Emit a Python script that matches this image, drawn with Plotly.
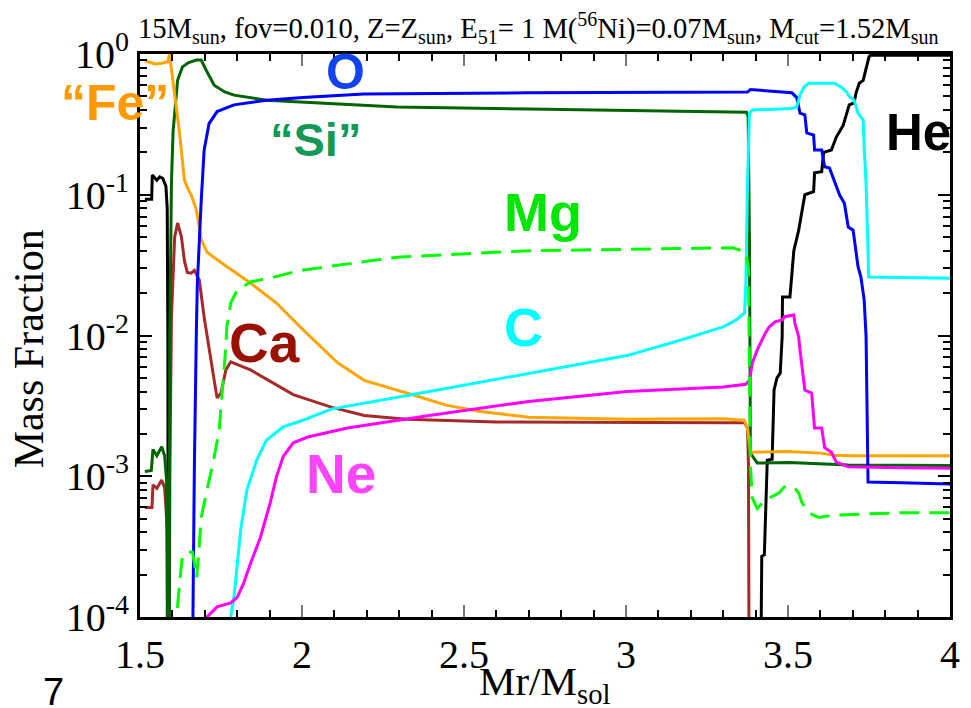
import plotly.graph_objects as go

# ---------------- data (mass fractions vs Mr/Msol) ----------------
fe_x = [1.515, 1.546, 1.567, 1.58, 1.586, 1.591, 1.600, 1.607, 1.622, 1.637, 1.648, 1.658, 1.674, 1.689,
        1.707, 1.75, 1.841, 1.921, 2.003, 2.11, 2.192, 2.323, 2.445, 2.546, 2.70, 3.003, 3.30, 3.365,
        3.375, 3.384, 3.50, 3.60, 3.643, 3.70, 4.0]
fe_y = [0.896, 0.85, 0.86, 0.877, 0.88, 1.0, 0.69, 0.53, 0.275, 0.127, 0.11, 0.10, 0.078, 0.048,
        0.039, 0.033, 0.0236, 0.017, 0.011, 0.0064, 0.0048, 0.0039, 0.0032, 0.0029, 0.00263, 0.00254, 0.00256, 0.0025,
        0.0022, 0.00148, 0.0015, 0.00146, 0.00141, 0.0014, 0.0014]

si_x = [1.515, 1.535, 1.54, 1.552, 1.567, 1.576, 1.582, 1.586, 1.589, 1.592, 1.597, 1.602, 1.607, 1.616,
        1.631, 1.65, 1.674, 1.689, 1.704, 1.729, 1.76, 1.79, 1.89, 2.003, 2.293, 2.70, 3.30, 3.372,
        3.377, 3.381, 3.384, 3.405, 3.503, 3.604, 3.686, 4.0]
si_y = [0.00108, 0.0011, 0.00155, 0.0014, 0.00162, 0.0014, 0.00093, 0.0001, 1e-6, 0.01, 0.12, 0.28, 0.40, 0.65,
        0.81, 0.87, 0.905, 0.905, 0.77, 0.60, 0.54, 0.51, 0.47, 0.456, 0.42, 0.407, 0.39, 0.385,
        0.36, 0.05, 0.00146, 0.00124, 0.00125, 0.00122, 0.0012, 0.00119]

he_x = [1.515, 1.536, 1.538, 1.552, 1.561, 1.57, 1.58, 1.584, 1.586, 1.588, 3.41, 3.419, 3.427, 3.436,
        3.451, 3.457, 3.466, 3.476, 3.482, 3.483, 3.506, 3.518, 3.533, 3.543, 3.552, 3.579, 3.582, 3.604,
        3.61, 3.634, 3.649, 3.67, 3.689, 3.704, 3.71, 3.72, 3.732, 3.75, 3.755, 4.0]
he_y = [0.093, 0.093, 0.138, 0.127, 0.134, 0.131, 0.115, 0.08, 0.01, 1e-6, 1e-6, 0.00027, 0.000276, 0.0013,
        0.00132, 0.0041, 0.005, 0.0054, 0.0098, 0.0188, 0.0188, 0.04, 0.056, 0.078, 0.10, 0.105, 0.143, 0.146,
        0.20, 0.208, 0.257, 0.31, 0.435, 0.45, 0.53, 0.62, 0.65, 0.955, 0.98, 0.98]

o_x = [1.655, 1.662, 1.668, 1.674, 1.677, 1.689, 1.698, 1.713, 1.738, 1.79, 1.89, 2.003, 2.19, 2.70,
       3.30, 3.375, 3.384, 3.482, 3.512, 3.527, 3.537, 3.552, 3.558, 3.579, 3.582, 3.604, 3.613, 3.628,
       3.649, 3.659, 3.674, 3.686, 3.701, 3.716, 3.725, 3.735, 3.741, 3.745, 3.747, 3.85, 4.0]
o_y = [1e-6, 1e-4, 0.00125, 0.011, 0.0236, 0.091, 0.208, 0.32, 0.39, 0.435, 0.47, 0.49, 0.52, 0.53,
       0.537, 0.537, 0.56, 0.537, 0.53, 0.49, 0.38, 0.37, 0.275, 0.265, 0.208, 0.208, 0.158, 0.155,
       0.114, 0.10, 0.087, 0.059, 0.056, 0.031, 0.026, 0.018, 0.0098, 0.003, 0.00091, 0.0009, 0.00088]

c_x = [1.775, 1.78, 1.79, 1.811, 1.83, 1.86, 1.89, 1.942, 2.003, 2.09, 2.393, 2.70, 3.003, 3.17,
       3.30, 3.34, 3.366, 3.37, 3.375, 3.381, 3.39, 3.512, 3.527, 3.537, 3.549, 3.564, 3.643, 3.665,
       3.68, 3.689, 3.704, 3.716, 3.732, 3.735, 3.741, 3.747, 3.749, 4.0]
c_y = [1e-5, 1e-4, 0.000138, 0.00042, 0.0008, 0.0013, 0.0018, 0.00224, 0.0025, 0.003, 0.004, 0.0054, 0.0072, 0.0093,
       0.0115, 0.0129, 0.0145, 0.0235, 0.12, 0.38, 0.40, 0.41, 0.42, 0.51, 0.58, 0.62, 0.62, 0.58,
       0.54, 0.50, 0.47, 0.38, 0.34, 0.22, 0.12, 0.04, 0.026, 0.0255]

ne_x = [1.70, 1.707, 1.738, 1.78, 1.80, 1.82, 1.841, 1.872, 1.902, 1.921, 1.942, 1.973, 2.018, 2.14,
        2.393, 2.70, 3.003, 3.30, 3.37, 3.381, 3.39, 3.405, 3.42, 3.43, 3.442, 3.46, 3.482, 3.49,
        3.518, 3.521, 3.533, 3.537, 3.552, 3.573, 3.582, 3.604, 3.613, 3.634, 3.649, 3.686, 3.85, 4.0]
ne_y = [1e-5, 1e-4, 0.000118, 0.000126, 0.000138, 0.000174, 0.00024, 0.00037, 0.00065, 0.00099, 0.00138, 0.00173, 0.0019, 0.0022,
        0.0027, 0.0034, 0.004, 0.0043, 0.0045, 0.0048, 0.0064, 0.0079, 0.0093, 0.0104, 0.0115, 0.0125, 0.0129, 0.0136,
        0.014, 0.0123, 0.0098, 0.0079, 0.0041, 0.0039, 0.0022, 0.0022, 0.0016, 0.00148, 0.00126, 0.00117, 0.00115, 0.00114]

ca_x = [1.515, 1.537, 1.54, 1.552, 1.567, 1.576, 1.585, 1.587, 1.589, 1.592, 1.597, 1.607, 1.616, 1.628,
        1.637, 1.646, 1.658, 1.668, 1.683, 1.698, 1.707, 1.713, 1.729, 1.738, 1.75, 1.765, 1.78, 1.841,
        1.912, 1.973, 2.09, 2.192, 2.323, 2.60, 3.30, 3.366, 3.375, 3.378, 3.382]
ca_y = [0.0006, 0.0006, 0.00087, 0.00082, 0.00094, 0.00083, 0.0004, 1e-6, 1e-6, 0.001, 0.0135, 0.05, 0.063, 0.05,
        0.034, 0.028, 0.0277, 0.029, 0.0248, 0.0135, 0.0098, 0.0079, 0.0048, 0.0036, 0.0039, 0.0057, 0.0065, 0.0057,
        0.0046, 0.0038, 0.0031, 0.0027, 0.00254, 0.00243, 0.0024, 0.0024, 0.0022, 0.0012, 1e-6]

mg_x = [1.61, 1.613, 1.622, 1.631, 1.646, 1.662, 1.668, 1.675, 1.682, 1.689, 1.707, 1.729, 1.744, 1.753,
        1.765, 1.768, 1.78, 1.80, 1.841, 1.912, 1.994, 2.293, 2.70, 3.33, 3.37, 3.378, 3.381, 3.384,
        3.39, 3.405, 3.43, 3.472, 3.488, 3.518, 3.533, 3.543, 3.564, 3.594, 3.643, 3.85, 4.0]
mg_y = [1e-5, 1e-4, 0.000174, 0.00027, 0.00029, 0.00029, 0.00024, 0.00019, 0.0003, 0.00051, 0.0008, 0.00137, 0.0021, 0.0036,
        0.0083, 0.0115, 0.017, 0.021, 0.024, 0.026, 0.029, 0.036, 0.040, 0.042, 0.039, 0.03, 0.0057, 0.0012,
        0.0007, 0.00059, 0.00068, 0.00076, 0.00084, 0.00084, 0.00076, 0.00065, 0.00055, 0.00051, 0.00053, 0.00055, 0.00055]

x_tickvals = [1.5, 2, 2.5, 3, 3.5, 4]
x_ticktext = ["1.5", "2", "2.5", "3", "3.5", "4"]
y_exponents = [0, -1, -2, -3, -4]

# ---------------- figure ----------------
# page body has an 8px margin; the figure sits at (8, 8) and fills the rest of the window
OFF = 8
W, H = 971 - OFF, 708 - OFF
L, R, T, B = 140, 960, 54, 617   # plot area in page pixels

def px(xp):
    return (xp - L) / (R - L)

def py(yp):
    return (B - yp) / (B - T)

fig = go.Figure()
series = [
    (he_x, he_y, "black", None),
    (ca_x, ca_y, "#A52A2A", None),
    (si_x, si_y, "#006400", None),
    (fe_x, fe_y, "#FFA500", None),
    (o_x, o_y, "#0000FF", None),
    (c_x, c_y, "#00FFFF", None),
    (ne_x, ne_y, "#FF00FF", None),
    (mg_x, mg_y, "#00FF00", "20px,10px"),
]
for xs, ys, col, dash in series:
    fig.add_trace(go.Scatter(x=xs, y=ys, mode="lines",
                             line=dict(color=col, width=3, dash=dash),
                             showlegend=False, hoverinfo="skip"))

tickfont = dict(family="Liberation Serif", size=40, color="black")
minor_y = [m * 10.0 ** e for e in range(-4, 0) for m in range(2, 10)]

fig.update_xaxes(range=[1.5, 4], showline=True, linewidth=3, linecolor="black", mirror="ticks",
                 ticks="inside", ticklen=12, tickwidth=2, tickcolor="#777777",
                 tickmode="array", tickvals=x_tickvals, ticktext=x_ticktext, tickfont=tickfont,
                 ticklabeloverflow="allow",
                 showgrid=False, zeroline=False,
                 minor=dict(ticks="inside", ticklen=7, tickwidth=1.5, tickcolor="black",
                            dtick=0.1, tick0=1.5, showgrid=False))
fig.update_yaxes(type="log", range=[-4, 0], showline=True, linewidth=3, linecolor="black", mirror="ticks",
                 ticks="inside", ticklen=12, tickwidth=2, tickcolor="black",
                 tickmode="array", tickvals=[10.0 ** e for e in y_exponents],
                 ticktext=["10<sup>%d</sup>" % e for e in y_exponents], tickfont=tickfont,
                 showgrid=False, zeroline=False,
                 minor=dict(ticks="inside", ticklen=7, tickwidth=1.5, tickcolor="black",
                            tickmode="array", tickvals=minor_y, showgrid=False))

ann = []
title = ("15M<sub>sun</sub>, fov=0.010, Z=Z<sub>sun</sub>, E<sub>51</sub>= 1 M(<sup>56</sup>Ni)=0.07M<sub>sun</sub>, "
         "M<sub>cut</sub>=1.52M<sub>sun</sub>")
ann.append(dict(text=title, x=px(136), y=py(50), xanchor="left", yanchor="bottom",
                font=dict(family="Liberation Serif", size=28.6, color="black")))
ann.append(dict(text="Mass Fraction", x=px(28), y=py(349), textangle=-90, xanchor="center", yanchor="middle",
                font=dict(family="Liberation Serif", size=42, color="black")))
ann.append(dict(text="Mr/M<sub>sol</sub>", x=px(549), y=py(656), xanchor="center", yanchor="top",
                font=dict(family="Liberation Serif", size=41, color="black")))
ann.append(dict(text="7", x=px(52), y=py(692), xanchor="center", yanchor="middle",
                font=dict(family="Liberation Sans", size=38, color="black")))

labels = [
    ("“Fe”", 115, 103, "#FF9900", "center", 50),
    ("“Si”", 318, 140, "#119955", "center", 47),
    ("O", 348, 72, "#1144EE", "center", 50),
    ("Mg", 548, 212, "#00E600", "center", 54),
    ("C", 528, 327, "#00FFFF", "center", 54),
    ("Ca", 266, 343, "#991100", "center", 55),
    ("Ne", 343, 474, "#FF44FF", "center", 55),
    ("He", 893, 132, "black", "left", 51),
]
for txt, xx, yy, col, xa, fs in labels:
    ann.append(dict(text="<b>%s</b>" % txt, x=px(xx), y=py(yy), xanchor=xa, yanchor="middle",
                    font=dict(family="Liberation Sans", size=fs, color=col)))

for a in ann:
    a.update(xref="paper", yref="paper", showarrow=False)
fig.update_layout(annotations=ann, width=W, height=H, autosize=False,
                  margin=dict(l=L - OFF, r=W - (R - OFF), t=T - OFF, b=H - (B - OFF)),
                  paper_bgcolor="white", plot_bgcolor="white")

fig.write_html("out.html")
